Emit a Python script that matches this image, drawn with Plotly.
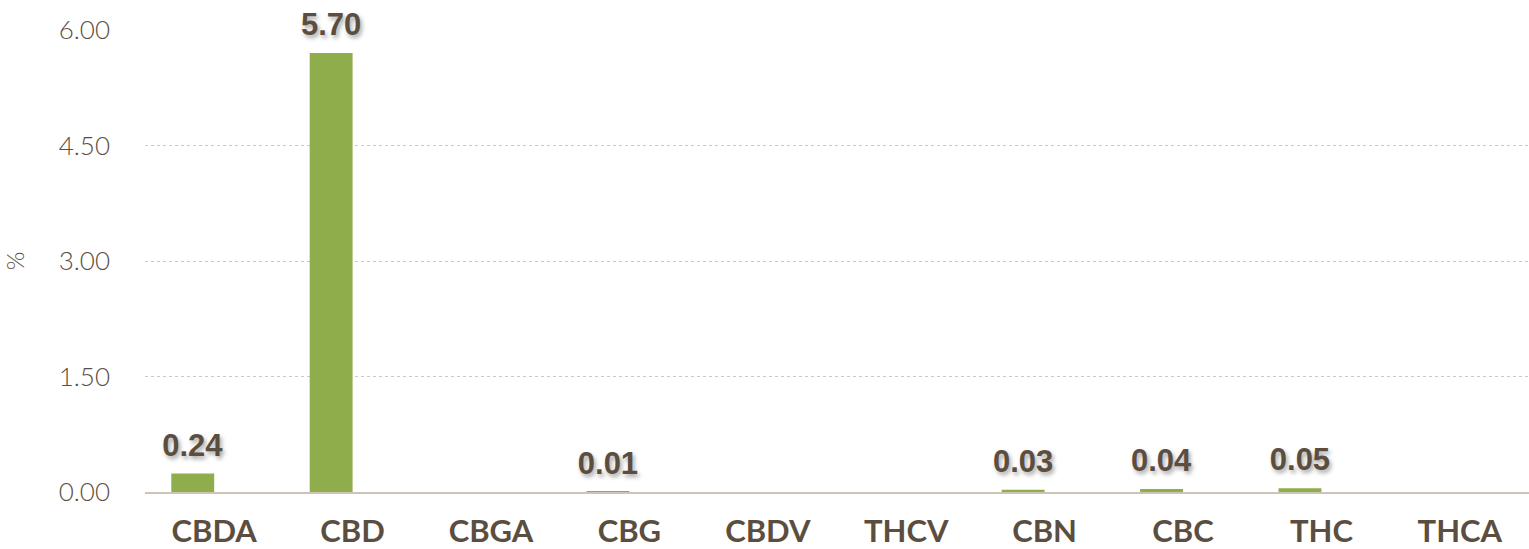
import plotly.graph_objects as go

categories = ["CBDA", "CBD", "CBGA", "CBG", "CBDV", "THCV", "CBN", "CBC", "THC", "THCA"]
values = [0.24, 5.70, 0, 0.01, 0, 0, 0.03, 0.04, 0.05, 0]
labels = ["0.24", "5.70", "", "0.01", "", "", "0.03", "0.04", "0.05", ""]
yticks = [0, 1.5, 3.0, 4.5, 6.0]
ytick_text = ["0.00", "1.50", "3.00", "4.50", "6.00"]

txt_color = "#5b4e40"
BAR_W = 0.31
LABEL_PAD = 0.1

fig = go.Figure()
fig.add_trace(go.Bar(
    x=categories, y=values, width=BAR_W, offset=-BAR_W,
    marker=dict(color="#8fad4b", line=dict(width=0)),
    hoverinfo="x+y", showlegend=False,
))
# transparent spacer on top of each bar carrying the value label
fig.add_trace(go.Bar(
    x=categories, y=[LABEL_PAD] * len(categories), base=values,
    width=BAR_W, offset=-BAR_W,
    text=labels, textposition="outside", constraintext="none", cliponaxis=False,
    marker=dict(color="rgba(0,0,0,0)", line=dict(width=0)),
    textfont=dict(family="Liberation Sans, Arial", size=31, color=txt_color,
                  weight="bold", shadow="2px 3px 4px rgba(0,0,0,0.35)"),
    hoverinfo="skip", showlegend=False,
))
fig.update_layout(
    width=1529, height=549,
    margin=dict(l=145, r=0, t=30, b=57, autoexpand=False),
    barmode="overlay",
    plot_bgcolor="white", paper_bgcolor="white",
    font=dict(family="Lato", color=txt_color),
)
fig.update_xaxes(
    tickfont=dict(family="Lato", size=31, color=txt_color, weight="bold"),
    showgrid=False, showline=True, linecolor="#cdc4b6", linewidth=1.5,
    ticks="", ticklabelstandoff=11, automargin=False,
)
fig.update_yaxes(
    range=[0, 6], tickvals=yticks, ticktext=ytick_text,
    tickfont=dict(family="Lato", size=26, color=txt_color, weight=300),
    showgrid=True, gridcolor="#c8c8c8", griddash="dot", gridwidth=1,
    zeroline=False, ticks="", ticklabelstandoff=34, automargin=False,
    title=dict(text="%", font=dict(family="Lato", size=24, color=txt_color, weight=300), standoff=34),
)
fig.write_html("out.html", config={"displayModeBar": False},
               post_script="document.body.style.margin='0px';")
